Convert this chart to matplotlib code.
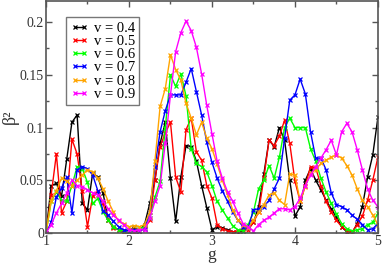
import numpy as np
import matplotlib
matplotlib.use("Agg")
import matplotlib.pyplot as plt
from matplotlib.ticker import MultipleLocator

plt.rcParams['font.family'] = ['Liberation Serif', 'DejaVu Serif']

# g grid (step 1/16 from 1 to 5)
g = np.linspace(1.0, 5.0, 65)

beta_04 = [0.000, 0.045, 0.047, 0.035, 0.070, 0.105, 0.112, 0.028, 0.022, 0.057,
           0.053, 0.038, 0.012, 0.006, 0.003, 0.002, 0.002, 0.006, 0.002, 0.008,
           0.028, 0.050, 0.085, 0.105, 0.052, 0.011, 0.053, 0.083, 0.082, 0.068,
           0.045, 0.024, 0.003, 0.006, 0.005, 0.003, 0.001, 0.000, 0.002, 0.006,
           0.010, 0.025, 0.056, 0.088, 0.082, 0.100, 0.088, 0.050, 0.016, 0.025,
           0.050, 0.061, 0.050, 0.041, 0.031, 0.023, 0.015, 0.006, 0.001, 0.000,
           0.009, 0.025, 0.053, 0.074, 0.110]
beta_05 = [0.000, 0.036, 0.075, 0.019, 0.030, 0.089, 0.075, 0.040, 0.006, 0.035,
           0.040, 0.028, 0.012, 0.005, 0.003, 0.001, 0.002, 0.001, 0.002, 0.004,
           0.012, 0.050, 0.082, 0.095, 0.105, 0.053, 0.039, 0.098, 0.109, 0.077,
           0.069, 0.045, 0.033, 0.008, 0.004, 0.002, 0.001, 0.002, 0.004, 0.003,
           0.010, 0.020, 0.052, 0.088, 0.083, 0.092, 0.107, 0.085, 0.049, 0.030,
           0.045, 0.063, 0.062, 0.045, 0.030, 0.020, 0.012, 0.006, 0.002, 0.001,
           0.008, 0.016, 0.031, 0.050, 0.072]
beta_06 = [0.000, 0.030, 0.039, 0.031, 0.030, 0.045, 0.063, 0.061, 0.048, 0.028,
           0.033, 0.020, 0.012, 0.006, 0.003, 0.002, 0.001, 0.002, 0.004, 0.006,
           0.014, 0.034, 0.049, 0.100, 0.150, 0.139, 0.151, 0.130, 0.080, 0.066,
           0.063, 0.058, 0.045, 0.030, 0.022, 0.014, 0.007, 0.003, 0.002, 0.008,
           0.020, 0.042, 0.050, 0.064, 0.052, 0.072, 0.100, 0.109, 0.100, 0.100,
           0.100, 0.080, 0.068, 0.052, 0.039, 0.028, 0.018, 0.009, 0.004, 0.002,
           0.003, 0.004, 0.008, 0.010, 0.019]
beta_07 = [0.000, 0.010, 0.034, 0.043, 0.053, 0.019, 0.060, 0.063, 0.061, 0.055,
           0.040, 0.021, 0.017, 0.011, 0.006, 0.003, 0.002, 0.003, 0.002, 0.004,
           0.020, 0.063, 0.096, 0.116, 0.131, 0.131, 0.131, 0.143, 0.156, 0.134,
           0.112, 0.086, 0.067, 0.052, 0.040, 0.030, 0.020, 0.012, 0.006, 0.005,
           0.022, 0.023, 0.025, 0.031, 0.042, 0.052, 0.090, 0.126, 0.131, 0.146,
           0.132, 0.096, 0.071, 0.071, 0.060, 0.038, 0.027, 0.025, 0.022, 0.017,
           0.013, 0.008, 0.003, 0.004, 0.009]
beta_08 = [0.000, 0.030, 0.040, 0.052, 0.049, 0.045, 0.050, 0.055, 0.060, 0.058,
           0.052, 0.042, 0.030, 0.020, 0.011, 0.009, 0.006, 0.007, 0.006, 0.008,
           0.020, 0.068, 0.120, 0.137, 0.169, 0.155, 0.145, 0.123, 0.109, 0.093,
           0.105, 0.090, 0.080, 0.065, 0.050, 0.036, 0.022, 0.012, 0.008, 0.005,
           0.012, 0.020, 0.027, 0.036, 0.038, 0.031, 0.027, 0.056, 0.055, 0.030,
           0.044, 0.057, 0.060, 0.066, 0.069, 0.072, 0.074, 0.071, 0.064, 0.055,
           0.042, 0.031, 0.025, 0.017, 0.008]
beta_09 = [0.000, 0.008, 0.019, 0.028, 0.038, 0.050, 0.045, 0.044, 0.041, 0.038,
           0.036, 0.030, 0.023, 0.017, 0.012, 0.008, 0.003, 0.002, 0.003, 0.003,
           0.014, 0.030, 0.045, 0.085, 0.131, 0.172, 0.190, 0.201, 0.192, 0.176,
           0.151, 0.121, 0.094, 0.068, 0.052, 0.039, 0.030, 0.019, 0.009, 0.006,
           0.002, 0.008, 0.012, 0.015, 0.019, 0.023, 0.023, 0.022, 0.025, 0.033,
           0.045, 0.055, 0.063, 0.071, 0.079, 0.088, 0.074, 0.096, 0.104, 0.096,
           0.079, 0.060, 0.042, 0.031, 0.025]

series = [beta_04, beta_05, beta_06, beta_07, beta_08, beta_09]
labels = ["v = 0.4", "v = 0.5", "v = 0.6", "v = 0.7", "v = 0.8", "v = 0.9"]
colors = ["#000000", "#ff0000", "#00ff00", "#0000ff", "#ffa500", "#ff00ff"]

fig = plt.figure(figsize=(3.82, 2.63), dpi=100)
ax = fig.add_axes([0.1204, 0.114, 0.869, 0.882])

for vals, lab, col in zip(series, labels, colors):
    ax.plot(g, vals, color=col, lw=1.0, marker='x', ms=3.5, mew=0.9, label=lab)

ax.set_xlim(1, 5)
ax.set_ylim(0, 0.22)
ax.xaxis.set_major_locator(MultipleLocator(1))
ax.xaxis.set_minor_locator(MultipleLocator(0.5))
ax.yaxis.set_minor_locator(MultipleLocator(0.025))
ax.set_yticks([0, 0.05, 0.1, 0.15, 0.2])
ax.set_yticklabels(["0", "0.05", "0.1", "0.15", "0.2"])

edge = "#555555"
for sp in ax.spines.values():
    sp.set_color(edge)
    sp.set_linewidth(1.2)
ax.tick_params(which='both', direction='in', top=True, right=True, colors=edge,
               labelcolor='#333333', labelsize=10, pad=1.5)
ax.tick_params(which='major', length=4.5, width=1)
ax.tick_params(which='minor', length=2.5, width=1)

ax.set_xlabel("g", fontsize=12.5, color='#333333', labelpad=-1)
ax.set_ylabel("β²", fontsize=13, color='#333333', labelpad=1)

leg = ax.legend(loc='upper left', bbox_to_anchor=(0.06, 0.93), fontsize=10.5,
                numpoints=2, handlelength=1.25, handletextpad=0.35,
                labelspacing=0.0, borderpad=0.3, borderaxespad=0,
                fancybox=False, framealpha=1, edgecolor='#777777')
leg.get_frame().set_linewidth(1.0)

fig.savefig("out.png", dpi=100)
